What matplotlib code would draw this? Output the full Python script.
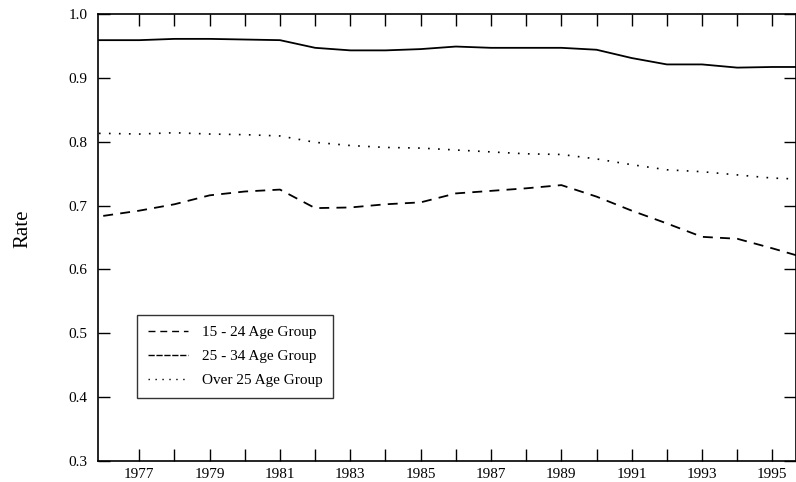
import matplotlib
matplotlib.use("Agg")
import matplotlib.pyplot as plt
from matplotlib.lines import Line2D
from matplotlib.ticker import FixedLocator, MultipleLocator, FuncFormatter

plt.rcParams['font.family'] = ['Liberation Serif', 'DejaVu Serif']

# annual rates (1975 and 1996 only extend the lines to the frame)
years = [1975, 1976, 1977, 1978, 1979, 1980, 1981, 1982, 1983, 1984, 1985,
         1986, 1987, 1988, 1989, 1990, 1991, 1992, 1993, 1994, 1995, 1996]
age_15_24 = [0.682, 0.684, 0.692, 0.702, 0.716, 0.722, 0.725, 0.696, 0.697, 0.702, 0.705,
             0.719, 0.723, 0.727, 0.732, 0.714, 0.692, 0.672, 0.651, 0.648, 0.633, 0.617]
age_25_34 = [0.959, 0.959, 0.959, 0.961, 0.961, 0.960, 0.959, 0.947, 0.943, 0.943, 0.945,
             0.949, 0.947, 0.947, 0.947, 0.944, 0.931, 0.921, 0.921, 0.916, 0.917, 0.917]
over_25 = [0.813, 0.813, 0.812, 0.814, 0.812, 0.811, 0.809, 0.799, 0.794, 0.791, 0.790,
           0.787, 0.784, 0.781, 0.780, 0.773, 0.764, 0.756, 0.753, 0.748, 0.743, 0.741]
labels = ['15 - 24 Age Group', '25 - 34 Age Group', 'Over 25 Age Group']
tick_years = list(range(1977, 1996))

fig = plt.figure(figsize=(7.96, 4.82), dpi=100)
ax = fig.add_axes([0.1235, 0.0436, 0.876, 0.9274])

ax.plot(years, age_15_24, color='black', lw=1.3, dashes=(5.5, 4))
ax.plot(years, age_25_34, color='black', lw=1.3)
ax.plot(years, over_25, color='black', lw=1.2, dashes=(1, 5))

ax.set_xlim(1975.835, 1995.66)
ax.set_ylim(0.3, 1.0)

ax.xaxis.set_major_locator(FixedLocator(tick_years))
ax.xaxis.set_major_formatter(FuncFormatter(lambda v, p: '%d' % v if int(round(v)) % 2 == 1 else ''))
ax.yaxis.set_major_locator(MultipleLocator(0.1))
ax.yaxis.set_major_formatter(FuncFormatter(lambda v, p: '%.1f' % v))
ax.tick_params(direction='in', length=8.5, width=1, top=True, right=True,
               labelsize=11, colors='black')
ax.tick_params(axis='x', pad=5)
ax.tick_params(axis='y', pad=8)
for s in ax.spines.values():
    s.set_linewidth(1.2)

ax.set_ylabel('Rate', fontsize=15)
ax.yaxis.set_label_coords(-0.095, 0.519)

# legend keys drawn the way the reference shows them
handles = [Line2D([], [], color='black', lw=1.0, dashes=(5, 3.5)),
           Line2D([], [], color='black', lw=1.0, dashes=(4.5, 1.2)),
           Line2D([], [], color='black', lw=1.0, dashes=(1, 4))]
leg = ax.legend(handles, labels, loc='lower left', bbox_to_anchor=(0.056, 0.141),
                borderaxespad=0, fontsize=11, fancybox=False, frameon=True,
                handlelength=2.6, handletextpad=0.9, labelspacing=0.68,
                borderpad=0.7)
leg.get_frame().set_edgecolor('black')
leg.get_frame().set_linewidth(1.0)

fig.savefig('out.png', dpi=100)
